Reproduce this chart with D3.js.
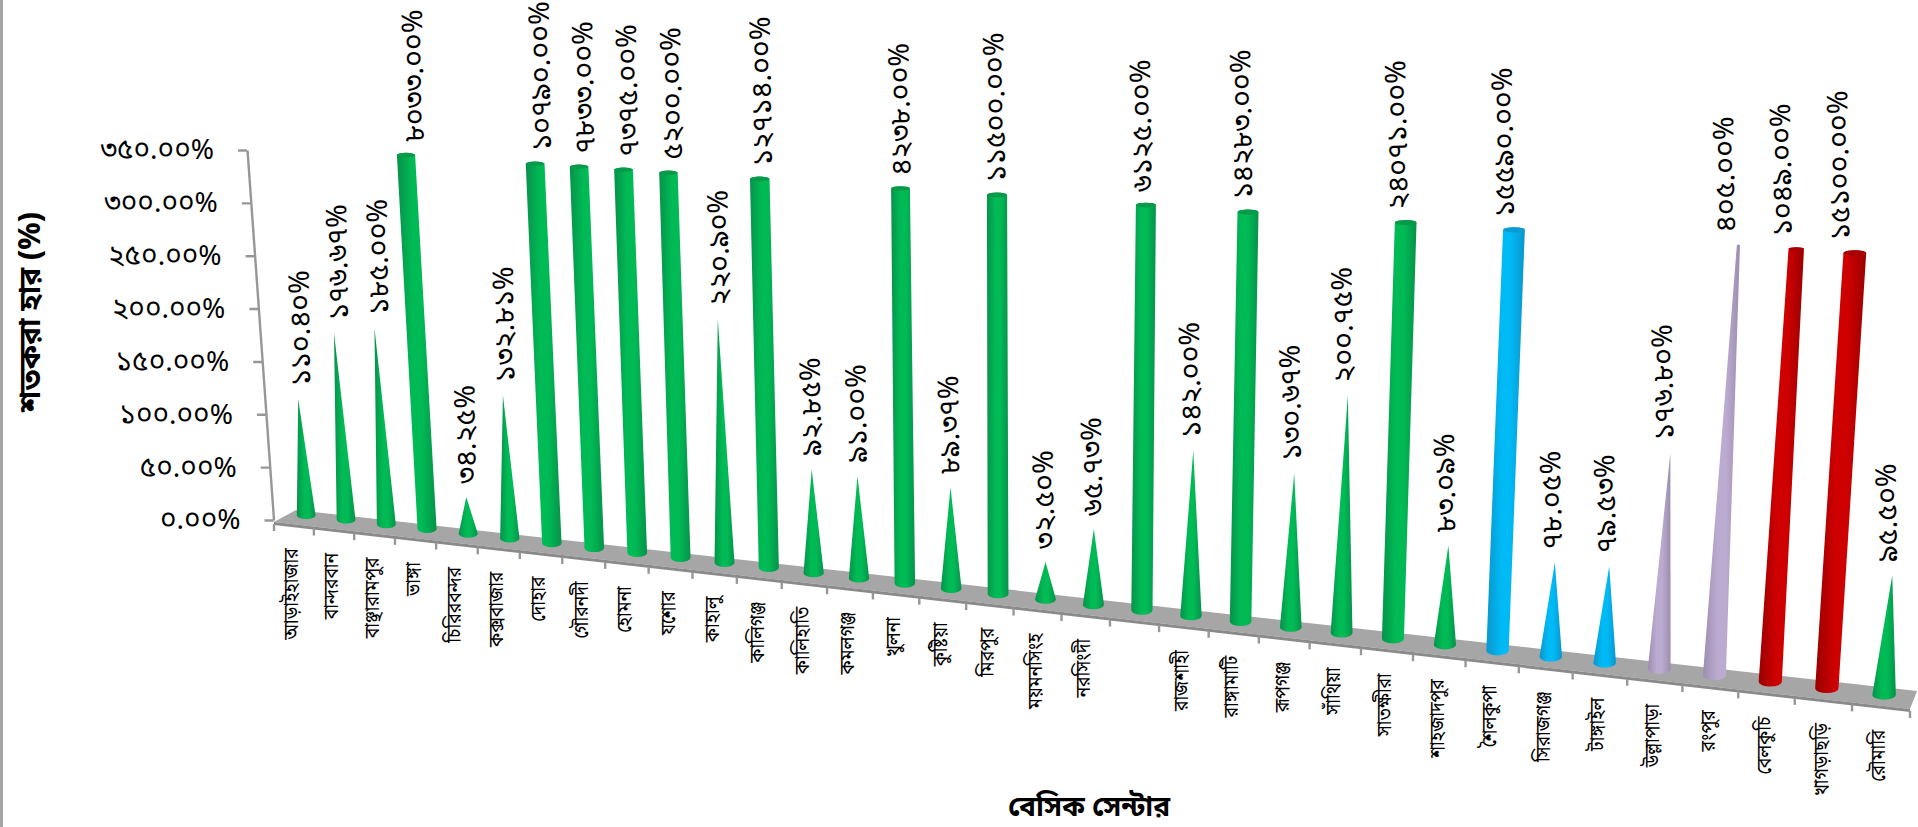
<!DOCTYPE html>
<html lang="bn">
<head>
<meta charset="utf-8">
<title>শতকরা হার</title>
<script src="https://cdnjs.cloudflare.com/ajax/libs/d3/7.8.5/d3.min.js"></script>
<style>
	html, body { margin: 0; padding: 0; background: #fff; overflow: hidden; }
	svg { display: block; }
	text { font-family: "Noto Sans Bengali", "Noto Serif Bengali", "Lohit Bengali", "Mukti", "FreeSans", "Noto Sans", sans-serif; fill: #000; }
	.axis-grey { stroke: #979797; stroke-width: 2.4; fill: none; }
</style>
</head>
<body>
<svg id="chart" width="1918" height="827"></svg>
<script>

var categories = ["আড়াইহাজার", "বান্দরবান", "বাঞ্ছারামপুর", "ভাঙ্গা", "চিরিরবন্দর", "কক্সবাজার", "দোহার", "গৌরনদী", "হোমনা", "যশোর",
	"কাহালু", "কালিগঞ্জ", "কালিহাতি", "কমলগঞ্জ", "খুলনা", "কুষ্টিয়া", "মিরপুর", "ময়মনসিংহ", "নরসিংদী", "",
	"রাজশাহী", "রাঙ্গামাটি", "রূপগঞ্জ", "সাঁথিয়া", "সাতক্ষীরা", "শাহজাদপুর", "শৈলকুপা", "সিরাজগঞ্জ", "টাঙ্গাইল", "উল্লাপাড়া",
	"রংপুর", "বেলকুচি", "খাগড়াছড়ি", "রৌমারি"];

var values = [110.40, 176.67, 185.00, 8033.00, 34.25, 132.81, 10790.00, 7833.00, 7375.00, 5200.00,
	220.90, 12714.00, 92.85, 91.00, 4238.00, 89.37, 11500.00, 32.50, 65.73, 6125.00,
	142.00, 14283.00, 130.67, 200.75, 24071.00, 83.09, 15590.00, 78.05, 79.53, 176.80,
	405.00, 1049.00, 15100.00, 95.50];

var groups = ["g", "g", "g", "g", "g", "g", "g", "g", "g", "g",
	"g", "g", "g", "g", "g", "g", "g", "g", "g", "g",
	"g", "g", "g", "g", "g", "g", "b", "b", "b", "p",
	"p", "r", "r", "g"];

var yTicks = [0, 50, 100, 150, 200, 250, 300, 350];
var yTitle = "শতকরা হার (%)";
var xTitle = "বেসিক সেন্টার";


var bnDigits = "০১২৩৪৫৬৭৮৯";

function bnFormat(v) {
	return v.toFixed(2).replace(/[0-9]/g, function(d) { return bnDigits[+d]; }) + "%";
}


var svg = d3.select("#chart");
var defs = svg.append("defs");

// page edge
svg.append("rect").attr("x", 0).attr("y", 0).attr("width", 3).attr("height", 827).attr("fill", "#a6a6a6");


// the picture is a tilted 3D chart: u runs along the floor, perspective() bends it
var warp = 0.825;

function perspective(u) {
	return warp * u / (1 + (warp - 1) * u);
}

var xBand = d3.scaleBand().domain(categories).range([0, 1]);

var frontX = d3.scaleLinear().domain([0, 1]).range([274, 1910]),
	frontY = d3.scaleLinear().domain([0, 1]).range([522, 709]),
	backX = d3.scaleLinear().domain([0, 1]).range([296, 1917]),
	backY = d3.scaleLinear().domain([0, 1]).range([510, 691]),
	baseX = d3.scaleLinear().domain([0, 1]).range([286.4, 1913]),
	baseY = d3.scaleLinear().domain([0, 1]).range([513, 698]),
	topX = d3.scaleLinear().domain([0, 1]).range([260.4, 1944]),
	topY = d3.scaleLinear().domain([0, 1]).range([145.2, 259]),
	baseW = d3.scaleLinear().domain([0, 1]).range([9.3, 11.8]);

var yMax = d3.max(yTicks);
var yUnit = d3.scaleLinear().domain([0, yMax]).range([0, 1]);


var colorScale = d3.scaleOrdinal().domain(["g", "b", "p", "r"]).range(["url(#grad-g)", "url(#grad-b)", "url(#grad-p)", "url(#grad-r)"]);
var capScale = d3.scaleOrdinal().domain(["g", "b", "p", "r"]).range(["#079a49", "#0a9bd2", "#9d8eb2", "#a80000"]);

[["g", "#06924a", "#00bb55"], ["b", "#0a96cc", "#00baf5"], ["p", "#9c8db0", "#bbabd0"], ["r", "#9a0000", "#cf0000"]].forEach(function(c) {
	var grad = defs.append("linearGradient").attr("id", "grad-" + c[0]).attr("x1", 0).attr("x2", 1).attr("y1", 0).attr("y2", 0);
	grad.append("stop").attr("offset", "0%").attr("stop-color", c[1]);
	grad.append("stop").attr("offset", "40%").attr("stop-color", c[2]);
	grad.append("stop").attr("offset", "62%").attr("stop-color", c[2]);
	grad.append("stop").attr("offset", "100%").attr("stop-color", c[1]);
});


// floor
var floor = svg.append("g");

floor.append("polygon")
	.attr("points", [[frontX(0), frontY(0)], [backX(0), backY(0)], [backX(1), backY(1)], [frontX(1), frontY(1)]].join(" "))
	.attr("fill", "#a6a6a6");

floor.append("polygon")
	.attr("points", [[frontX(0), frontY(0)], [frontX(1), frontY(1)], [frontX(1), frontY(1) + 3], [frontX(0), frontY(0) + 3]].join(" "))
	.attr("fill", "#8a8a8a");


// category ticks along the front edge
var edges = d3.range(categories.length + 1).map(function(i) { return perspective(i / categories.length); });

svg.append("g").selectAll("line")
	.data(edges)
	.enter().append("line")
		.attr("class", "axis-grey")
		.attr("x1", function(d) { return frontX(d); })
		.attr("x2", function(d) { return frontX(d); })
		.attr("y1", function(d) { return frontY(d) + 2; })
		.attr("y2", function(d) { return frontY(d) + 9; });


// value axis, sheared to lean with the picture
var axisY = d3.scaleLinear().domain([0, yMax]).range([520, 150]);
var shear = (247 - 273.5) / (150 - 520);
var yAxis = d3.axisLeft(axisY).tickValues(yTicks).tickSize(9).tickSizeOuter(0).tickPadding(24).tickFormat(bnFormat);

var yGroup = svg.append("g")
	.attr("transform", "matrix(1,0," + shear + ",1," + (273.5 - shear * 520) + ",0)")
	.call(yAxis);

yGroup.select(".domain").attr("class", "axis-grey");
yGroup.selectAll(".tick line").attr("class", "axis-grey");
yGroup.selectAll(".tick text")
	.attr("transform", "matrix(1,0," + (-shear) + ",1,0,0)")
	.attr("dy", "0.32em")
	.style("font-size", "28px");


// one mark per category: a cone that is cut off at the top of the axis
function markGeom(cat, value) {
	var u = xBand(cat) + xBand.bandwidth() / 2,
		p = perspective(u),
		t = yUnit(Math.min(value, yMax)),
		bx = baseX(p),
		by = baseY(p),
		rb = baseW(p);

	return {
		t: t, bx: bx, by: by, rb: rb,
		tx: bx + (topX(p) - bx) * t,
		ty: by + (topY(p) - by) * t,
		rt: rb * (1 - Math.min(value, yMax) / value)
	};
}

var data = categories.map(function(c, i) {
	return {cat: c, value: values[i], group: groups[i], geom: markGeom(c, values[i])};
});

var marks = svg.append("g").selectAll("g").data(data).enter().append("g");

marks.append("path")
	.attr("fill", function(d) { return colorScale(d.group); })
	.attr("d", function(d) {
		var g = d.geom;
		return "M" + (g.bx - g.rb) + "," + g.by +
			"A" + g.rb + "," + (g.rb * 0.42) + " 0 0 0 " + (g.bx + g.rb) + "," + g.by +
			"L" + (g.tx + g.rt) + "," + g.ty +
			"A" + g.rt + "," + (g.rt * 0.24) + " 0 0 0 " + (g.tx - g.rt) + "," + g.ty + "Z";
	});

marks.filter(function(d) { return d.geom.rt > 0.5; }).append("ellipse")
	.attr("cx", function(d) { return d.geom.tx; })
	.attr("cy", function(d) { return d.geom.ty; })
	.attr("rx", function(d) { return d.geom.rt; })
	.attr("ry", function(d) { return d.geom.rt * 0.24; })
	.attr("fill", function(d) { return capScale(d.group); });


// value labels, they drift left of the tall marks as the picture goes right
svg.append("g").selectAll("text")
	.data(data)
	.enter().append("text")
		.attr("transform", function(d) {
			var g = d.geom,
				drift = -1 + g.t * (9 - (g.tx - 412) * 0.016);
			return "translate(" + (g.tx + drift) + "," + (g.ty - 13) + ") rotate(-91)";
		})
		.attr("dy", "0.35em")
		.style("font-size", "28.5px")
		.text(function(d) { return bnFormat(d.value); });


// category labels
svg.append("g").selectAll("text")
	.data(data)
	.enter().append("text")
		.attr("transform", function(d) {
			var p = perspective(xBand(d.cat) + xBand.bandwidth() / 2);
			return "translate(" + (frontX(p) - 3) + "," + (frontY(p) + 24) + ") rotate(-90) scale(0.88,1.05)";
		})
		.attr("text-anchor", "end")
		.attr("dy", "0.35em")
		.style("font-size", "20px")
		.text(function(d) { return d.cat; });


// titles
svg.append("text")
	.attr("transform", "translate(29,312) rotate(-90)")
	.attr("text-anchor", "middle")
	.attr("dy", "0.35em")
	.style("font-size", "30px")
	.style("font-weight", "bold")
	.text(yTitle);

svg.append("text")
	.attr("x", 1089)
	.attr("y", 806)
	.attr("text-anchor", "middle")
	.attr("dy", "0.35em")
	.style("font-size", "28px")
	.style("font-weight", "bold")
	.text(xTitle);

</script>
</body>
</html>
